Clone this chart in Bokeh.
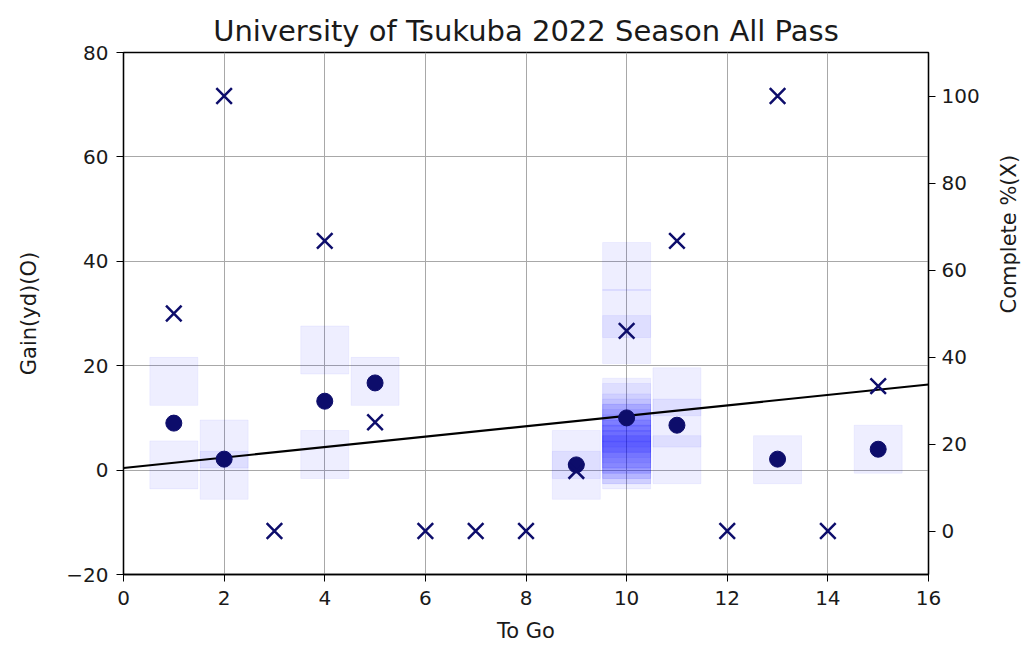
import math
from bokeh.plotting import figure
from bokeh.models import Range1d, LinearAxis, FixedTicker
from bokeh.embed import file_html
from bokeh.resources import INLINE

# ---- data ----
to_go = [1, 2, 3, 4, 5, 6, 7, 8, 9, 10, 11, 12, 13, 14, 15]
complete_pct = [50, 100, 0, 66.7, 25, 0, 0, 0, 13.8, 46, 66.7, 0, 100, 0, 33.3]

mean_x = [1, 2, 4, 5, 9, 10, 11, 13, 15]
mean_gain = [9.0, 2.1, 13.2, 16.7, 1.0, 10.0, 8.6, 2.1, 4.0]

play_x = [1, 1, 2, 2, 4, 4, 5, 9, 9,
          10, 10, 10, 10, 10, 10, 10, 10, 10, 10, 10, 10, 10, 10, 10, 10, 10, 10, 10, 10,
          11, 11, 11, 13, 15]
play_gain = [17, 1, 5, -1, 23, 3, 17, 3, -1,
             39, 30, 25, 13, 12, 10, 9, 8, 8, 7, 6, 5, 5, 4, 4, 3, 3, 2, 2, 1,
             15, 9, 2, 2, 4]

fit_intercept = 0.4
fit_slope = 1.0
fit_x = [0, 16]
fit_y = [fit_intercept + fit_slope * v for v in fit_x]

x_ticks = [0, 2, 4, 6, 8, 10, 12, 14, 16]
left_ticks = [-20, 0, 20, 40, 60, 80]
right_ticks = [0, 20, 40, 60, 80, 100]

FONT = "DejaVu Sans"
NAVY = "#0d0d6b"
TXT = "#1a1a1a"

p = figure(frame_width=805, frame_height=522, width=1020, height=644,
           x_range=Range1d(0, 16), y_range=Range1d(-20, 80),
           output_backend="svg", toolbar_location=None,
           title="University of Tsukuba 2022 Season All Pass",
           min_border_left=123, min_border_top=52, min_border_right=92, min_border_bottom=70)
p.extra_y_ranges = {"pct": Range1d(-10, 110)}

p.title.align = "center"
p.title.text_font = FONT
p.title.text_font_size = "29px"
p.title.text_font_style = "normal"
p.title.text_color = TXT
p.title.offset = 0
p.title.standoff = 9

p.outline_line_color = "black"
p.outline_line_width = 1.3
p.background_fill_color = "white"
p.border_fill_color = "white"

# grid
p.xgrid.ticker = FixedTicker(ticks=x_ticks)
p.ygrid.ticker = FixedTicker(ticks=left_ticks)
for g in (p.xgrid, p.ygrid):
    g.grid_line_color = "#a8a8a8"
    g.grid_line_width = 1

def style_axis(ax):
    ax.axis_line_color = "black"
    ax.axis_line_width = 1.3
    ax.major_tick_line_color = "black"
    ax.major_tick_out = 7
    ax.major_tick_in = 0
    ax.minor_tick_out = 0
    ax.minor_tick_in = 0
    ax.major_label_text_font = FONT
    ax.major_label_text_font_size = "20px"
    ax.major_label_text_color = TXT
    ax.axis_label_text_font = FONT
    ax.axis_label_text_font_size = "21px"
    ax.axis_label_text_font_style = "normal"
    ax.axis_label_text_color = TXT

p.xaxis.ticker = FixedTicker(ticks=x_ticks)
p.xaxis.axis_label = "To Go"
p.xaxis.major_label_standoff = 9
p.xaxis.axis_label_standoff = 11
p.yaxis.ticker = FixedTicker(ticks=left_ticks)
p.yaxis.major_label_overrides = {-20: "\u221220"}
p.yaxis.axis_label = "Gain(yd)(O)"
p.yaxis.axis_label_standoff = 22
p.yaxis.major_label_standoff = 8
style_axis(p.xaxis[0])
style_axis(p.yaxis[0])

right = LinearAxis(y_range_name="pct", axis_label="Complete %(X)",
                   ticker=FixedTicker(ticks=right_ticks))
style_axis(right)
right.major_label_standoff = 6
right.axis_label_standoff = 26
right.axis_label_orientation = math.pi / 2
p.add_layout(right, "right")

# individual plays (translucent squares)
p.scatter(x=play_x, y=play_gain, marker="square", size=48,
          fill_color="blue", fill_alpha=0.065,
          line_color="blue", line_alpha=0.05, line_width=1)

# regression line
p.line(fit_x, fit_y, line_color="black", line_width=2.2)

# mean gain circles
p.scatter(x=mean_x, y=mean_gain, marker="circle", size=16,
          fill_color=NAVY, line_color=NAVY)

# complete % crosses
p.scatter(x=to_go, y=complete_pct, y_range_name="pct", marker="x", size=22,
          line_color=NAVY, line_width=2.5)

open("out.html", "w").write(file_html(p, INLINE))
